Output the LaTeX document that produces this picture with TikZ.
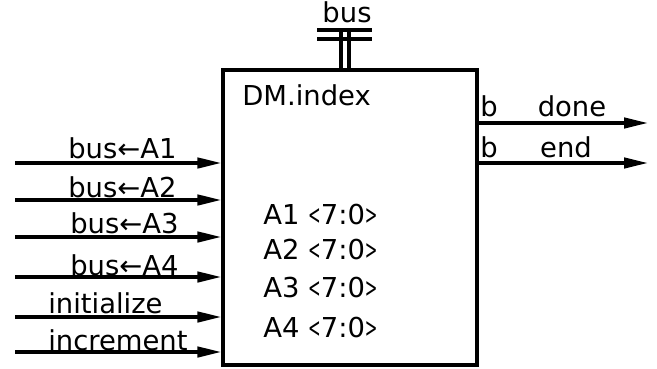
\documentclass[tikz,border=0pt]{standalone}
\usepackage{fontspec}
\setmainfont{DejaVu Sans}
\usetikzlibrary{arrows.meta}

\newcommand\chevl{\scalebox{0.55}[1]{<}}
\newcommand\chevr{\scalebox{0.55}[1]{>}}

\begin{document}
\begin{tikzpicture}[
  sig/.style={line width=2.4pt,-{Triangle[length=6mm,width=2.6mm]}},
  txt/.style={inner sep=0pt,font=\fontsize{19.5}{22}\selectfont}
]

\useasboundingbox (0,0) rectangle (16.425,9.2);

\node[draw,line width=2.4pt,minimum width=6.35cm,minimum height=7.375cm] (index) at (8.75,3.7625) {}; % bloque

% bus
\coordinate (busl) at (8.525,8.45);
\coordinate (busr) at (8.725,8.45);
\coordinate (bar1w) at (7.925,8.45);
\coordinate (bar1e) at (9.3,8.45);
\coordinate (bar2w) at (7.925,8.225);
\coordinate (bar2e) at (9.3,8.225);
\draw[line width=2.4pt] (busl) -- (busl |- index.north);
\draw[line width=2.4pt] (busr) -- (busr |- index.north);
\draw[line width=2.4pt] (bar1w) -- (bar1e);
\draw[line width=2.4pt] (bar2w) -- (bar2e);
\node[txt,anchor=base] (bus) at (8.675,8.625) {bus};

% entradas
\coordinate (in1) at (0.375,5.125);
\coordinate (in2) at (0.375,4.2);
\coordinate (in3) at (0.375,3.275);
\coordinate (in4) at (0.375,2.275);
\coordinate (in5) at (0.375,1.275);
\coordinate (in6) at (0.375,0.4);
\draw[sig] (in1) -- (in1 -| index.west);
\draw[sig] (in2) -- (in2 -| index.west);
\draw[sig] (in3) -- (in3 -| index.west);
\draw[sig] (in4) -- (in4 -| index.west);
\draw[sig] (in5) -- (in5 -| index.west);
\draw[sig] (in6) -- (in6 -| index.west);

\node[txt,anchor=west] (ldA1) at (1.7,5.5) {bus←A1};
\node[txt,anchor=west] (ldA2) at (1.7,4.525) {bus←A2};
\node[txt,anchor=west] (ldA3) at (1.75,3.625) {bus←A3};
\node[txt,anchor=west] (ldA4) at (1.75,2.575) {bus←A4};
\node[txt,anchor=west] (init) at (1.2,1.625) {initialize};
\node[txt,anchor=west] (incr) at (1.2,0.7) {increment};

% salidas
\coordinate (out1) at (16.2,6.125);
\coordinate (out2) at (16.2,5.125);
\draw[sig] (out1 -| index.east) -- (out1);
\draw[sig] (out2 -| index.east) -- (out2);

\node[txt] (b1) at (12.225,6.55) {b};
\node[txt] (done) at (14.3,6.55) {done};
\node[txt] (b2) at (12.225,5.525) {b};
\node[txt] (end) at (14.15,5.525) {end};

% registros
\node[txt,anchor=west] (name) at (6.05,6.825) {DM.index};
\node[txt,anchor=west] (A1) at (6.575,3.825) {A1 \chevl7:0\chevr};
\node[txt,anchor=west] (A2) at (6.575,2.95) {A2 \chevl7:0\chevr};
\node[txt,anchor=west] (A3) at (6.575,2.0) {A3 \chevl7:0\chevr};
\node[txt,anchor=west] (A4) at (6.575,1.0) {A4 \chevl7:0\chevr};

\end{tikzpicture}
\end{document}
